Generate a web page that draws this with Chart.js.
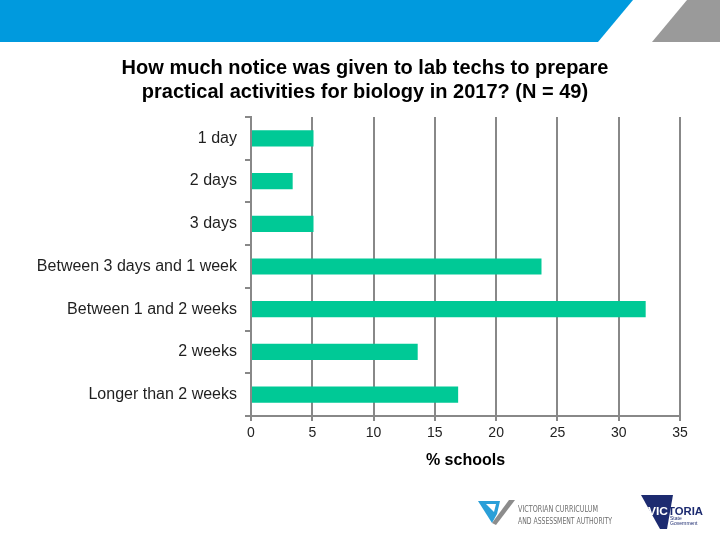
<!DOCTYPE html>
<html>
<head>
<meta charset="utf-8">
<script src="https://cdn.jsdelivr.net/npm/chart.js@4"></script>
<style>
  body { margin: 0; background: #fff; }
  #page { position: relative; width: 720px; height: 540px; overflow: hidden; background: #fff; }
  #page svg, #page canvas { position: absolute; left: 0; top: 0; }
</style>
</head>
<body>
<div id="page">
  <!-- header band -->
  <svg width="720" height="50">
    <polygon points="0,0 633,0 598,42 0,42" fill="#009ade" />
    <polygon points="687,0 720,0 720,42 652,42" fill="#9a9a9a" />
  </svg>
  <canvas id="myChart" width="720" height="540"></canvas>
  <!-- logos at the bottom -->
  <svg width="720" height="540" style="pointer-events:none">
    <polygon points="478,501 500,501 497,514 492,523" fill="#2a9fd8" />
    <polygon points="492,523 509,500 515,500 496,525" fill="#8c8c8c" />
    <polygon points="486,504 496,504 494,512" fill="#ffffff" />
    <text x="518" y="512" font-family="DejaVu Sans Condensed" font-size="8" fill="#6e6e6e" textLength="80" lengthAdjust="spacingAndGlyphs">VICTORIAN CURRICULUM</text>
    <text x="518" y="524" font-family="DejaVu Sans Condensed" font-size="8" fill="#6e6e6e" textLength="94" lengthAdjust="spacingAndGlyphs">AND ASSESSMENT AUTHORITY</text>
    <polygon points="641,495 673,495 667,529 660,529" fill="#1d2b70" />
    <text x="648" y="515" font-family="Liberation Sans" font-weight="bold" font-size="11" fill="#ffffff" textLength="20" lengthAdjust="spacingAndGlyphs">VIC</text>
    <text x="668" y="515" font-family="Liberation Sans" font-weight="bold" font-size="11" fill="#1d2b70" textLength="35" lengthAdjust="spacingAndGlyphs">TORIA</text>
    <text x="670" y="520" font-family="Liberation Sans" font-size="5" fill="#1d2b70">State</text>
    <text x="670" y="525" font-family="Liberation Sans" font-size="5" fill="#1d2b70">Government</text>
  </svg>
</div>
<script>
Chart.defaults.font.family = "'Liberation Sans', Arial, sans-serif";

// Get data
var categories = [
  "1 day",
  "2 days",
  "3 days",
  "Between 3 days and 1 week",
  "Between 1 and 2 weeks",
  "2 weeks",
  "Longer than 2 weeks",
];
var percentSchools = [5.1, 3.4, 5.1, 23.7, 32.2, 13.6, 16.9];
var xTicks = [0, 5, 10, 15, 20, 25, 30, 35];
var chartTitle = [
  "How much notice was given to lab techs to prepare",
  "practical activities for biology in 2017? (N = 49)",
];
var axisTitle = "% schools";

// title in the original sits a bit right of the canvas middle (centre x=365)
const shiftTitle = {
  id: "shiftTitle",
  afterLayout(chart) {
    if (chart.titleBlock) chart.titleBlock.left = 50;
  },
};

new Chart("myChart", {
  type: "bar",
  data: {
    labels: categories,
    datasets: [
      {
        label: axisTitle,
        backgroundColor: "#00c996",
        borderWidth: 0,
        data: percentSchools,
        categoryPercentage: 1,
        barPercentage: 0.38,
      },
    ],
  },
  plugins: [shiftTitle],
  options: {
    indexAxis: "y",
    responsive: false,
    animation: false,
    devicePixelRatio: 1,
    layout: { padding: { left: 0, right: 40, top: 56, bottom: 70 } },
    plugins: {
      legend: { display: false },
      tooltip: { enabled: false },
      title: {
        display: true,
        text: chartTitle,
        color: "#000",
        font: { size: 20, weight: "bold", lineHeight: 24 / 20 },
        padding: { top: 0, bottom: 13 },
      },
    },
    scales: {
      x: {
        min: xTicks[0],
        max: xTicks[xTicks.length - 1],
        afterBuildTicks: function (scale) {
          scale.ticks = xTicks.map(function (v) {
            return { value: v };
          });
        },
        grid: {
          color: "#888888",
          lineWidth: 2,
          drawTicks: true,
          tickLength: 5,
        },
        border: { color: "#888888", width: 2 },
        ticks: {
          color: "#222",
          font: { size: 14 },
          padding: 4,
        },
        title: {
          display: true,
          text: axisTitle,
          color: "#000",
          font: { size: 16, weight: "bold" },
          padding: { top: 5, bottom: 0 },
        },
      },
      y: {
        afterFit: function (scale) {
          scale.width = 251;
        },
        grid: {
          drawOnChartArea: false,
          drawTicks: true,
          tickLength: 6,
          color: "#888888",
          lineWidth: 2,
        },
        border: { color: "#888888", width: 2 },
        ticks: {
          color: "#1f1f1f",
          font: { size: 16 },
          padding: 8,
        },
      },
    },
  },
});
</script>
</body>
</html>
